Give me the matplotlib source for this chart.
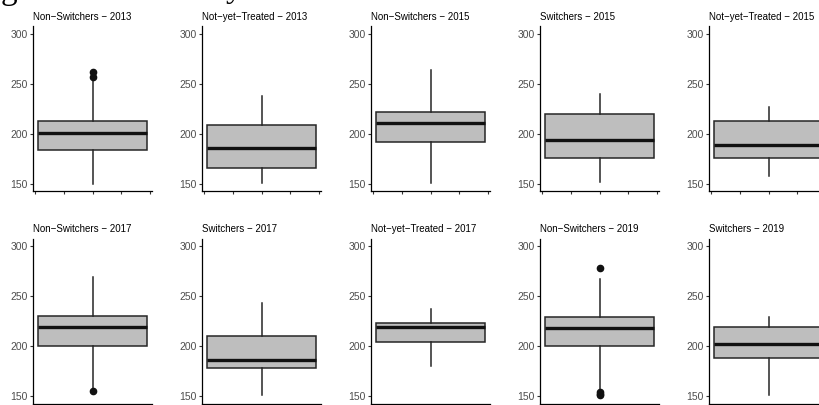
import matplotlib.pyplot as plt

# panel titles, read left to right, top to bottom
titles = ["Non\u2212Switchers \u2212 2013", "Not\u2212yet\u2212Treated \u2212 2013",
          "Non\u2212Switchers \u2212 2015", "Switchers \u2212 2015",
          "Not\u2212yet\u2212Treated \u2212 2015",
          "Non\u2212Switchers \u2212 2017", "Switchers \u2212 2017",
          "Not\u2212yet\u2212Treated \u2212 2017", "Non\u2212Switchers \u2212 2019",
          "Switchers \u2212 2019"]

# box statistics
q1 = [184, 166, 192, 175.5, 176, 200, 178.5, 204, 200, 188]
med = [201, 185.5, 210.5, 194, 188.5, 219, 186.5, 219.5, 218, 202.5]
q3 = [213, 208.5, 222, 219.5, 212.5, 230.5, 210, 223, 229, 219]
whislo = [150, 151, 151, 152, 158, 158, 151.5, 180, 156, 151]
whishi = [254, 237.5, 264, 240, 227, 269, 243.5, 237.5, 267.5, 229]
fliers = [[257, 262], [], [], [], [], [155], [], [], [278, 154, 152, 151], []]

yticks = [150, 200, 250, 300]
xticks = [-0.4, -0.2, 0, 0.2, 0.4]

W, H = 819, 405
fig = plt.figure(figsize=(W / 100, H / 100), dpi=100)
plt.rcParams['font.family'] = ['Liberation Sans', 'DejaVu Sans']

for i, t in enumerate(titles):
    r, c = divmod(i, 5)
    left = 33 + 169 * c
    top = 26.5 + 212 * r
    ax = fig.add_axes([left / W, 1 - (top + 165) / H, 119 / W, 165 / H])
    stats = [dict(q1=q1[i], med=med[i], q3=q3[i], whislo=whislo[i],
                  whishi=whishi[i], fliers=fliers[i])]
    ax.bxp(stats, positions=[0], widths=0.75, patch_artist=True, showcaps=False,
           boxprops=dict(facecolor="#BEBEBE", edgecolor="#262626", linewidth=1.1),
           medianprops=dict(color="#111111", linewidth=2.4),
           whiskerprops=dict(color="#262626", linewidth=1.1),
           flierprops=dict(marker="o", markerfacecolor="#111111",
                           markeredgecolor="#111111", markersize=4.5))
    ax.set_xlim(-0.4125, 0.4125)
    ax.set_ylim(142.5, 307.5)
    ax.set_xticks(xticks)
    ax.set_xticklabels([])
    ax.set_yticks(yticks)
    for s in ["top", "right"]:
        ax.spines[s].set_visible(False)
    for s in ["left", "bottom"]:
        ax.spines[s].set_linewidth(0.9)
        ax.spines[s].set_color("black")
    ax.tick_params(length=2.5, width=0.8, color="#333333", labelsize=7.5,
                   labelcolor="#4D4D4D", pad=1.5)
    ax.set_title(t, loc="left", fontsize=7, pad=5)

# clipped figure title fragments at the top edge
fig.text(1 / W, 1 + 1 / H, "g", fontsize=24, family="Liberation Serif",
         va="baseline", ha="left")
fig.text(226 / W, 1 + 3 / H, "y", fontsize=24, family="Liberation Serif",
         va="baseline", ha="left")

fig.savefig("out.png", dpi=100)
